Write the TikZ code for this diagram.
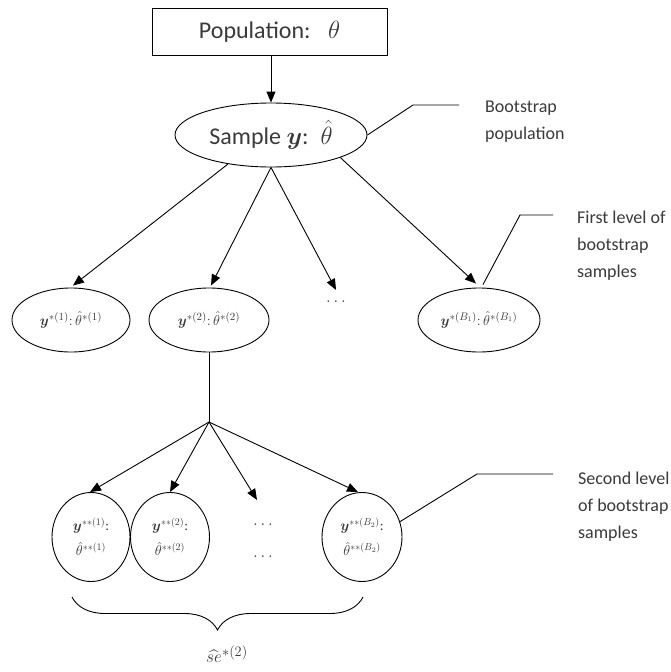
\documentclass[tikz,border=0pt]{standalone}
\usepackage{amsmath,bm}
\usepackage{fontspec}
\setmainfont{Carlito}
\usetikzlibrary{shapes.geometric,arrows.meta,decorations.pathreplacing}

\definecolor{txt}{HTML}{3A3A3A}

\tikzset{
  line/.style={line width=0.9pt, draw=black},
  arr/.style={line, -{Triangle[length=11pt,width=9pt]}},
  oval/.style={ellipse, draw=black, line width=0.9pt, inner sep=0pt, text=txt},
  note/.style={anchor=north west, align=left, text=txt, inner sep=0pt,
               font=\fontsize{18}{27}\selectfont},
  big/.style={font=\fontsize{24}{28}\selectfont},
  small/.style={font=\fontsize{15}{18}\selectfont},
  tiny/.style={font=\fontsize{14}{25}\selectfont},
  dots/.style={text=txt, inner sep=0pt, font=\fontsize{18}{20}\selectfont},
}

\begin{document}
\begin{tikzpicture}[x=1pt,y=-1pt]
\useasboundingbox (0,0) rectangle (670,672);

% population and the observed sample
\node[draw=black, line width=0.9pt, minimum width=235pt, minimum height=47pt,
      inner sep=0pt, text=txt, big] (pop) at (269.5,31.5)
      {Population:\enspace\ $\theta$};
\node[oval, minimum width=192pt, minimum height=64pt, big] (samp) at (271,135)
      {Sample $\bm{y}$:\enspace $\hat{\theta}$};
\draw[arr] (pop.south -| samp.north) -- (samp.north);

% first level of bootstrap samples
\node[oval, minimum width=118pt, minimum height=64pt, small] (e1) at (71,320)
      {$\bm{y}^{*(1)}{:}\,\hat{\theta}^{*(1)}$};
\node[oval, minimum width=120pt, minimum height=64pt, small] (e2) at (209,320)
      {$\bm{y}^{*(2)}{:}\,\hat{\theta}^{*(2)}$};
\node[dots] (d1) at (336,302) {$\ldots$};
\node[oval, minimum width=122pt, minimum height=64pt, small] (eb) at (479,320)
      {$\bm{y}^{*(B_1)}{:}\,\hat{\theta}^{*(B_1)}$};

\draw[arr] (samp.214.6) -- ([shift={(2,-2)}]e1.north);
\draw[arr] (samp.south) -- ([shift={(2,-2)}]e2.north);
\draw[arr] (samp.south) -- ([yshift=11pt]d1.north);
\draw[arr] (samp.-18.9) -- ([shift={(-3,-4)}]eb.north);

% second level of bootstrap samples
\coordinate (split) at (209,422);
\draw[line] (e2.south) -- (split);

\node[oval, minimum width=78pt, minimum height=89pt, tiny, align=center] (f1) at (91,537)
      {$\bm{y}^{**(1)}$:\\ $\hat{\theta}^{**(1)}$};
\node[oval, minimum width=79pt, minimum height=89pt, tiny, align=center] (f2) at (170,537)
      {$\bm{y}^{**(2)}$:\\ $\hat{\theta}^{**(2)}$};
\node[dots] (d2a) at (263,525) {$\ldots$};
\node[dots] (d2b) at (263,557) {$\ldots$};
\node[oval, minimum width=80pt, minimum height=89pt, tiny, align=center] (fb) at (362,537)
      {$\bm{y}^{**(B_2)}$:\\ $\hat{\theta}^{**(B_2)}$};

\draw[arr] (split) -- ([xshift=-1pt]f1.north);
\draw[arr] (split) -- (f2.north);
\draw[arr] (split) -- ([shift={(-6,-24)}]d2a.north);
\draw[arr] (split) -- ([xshift=-4pt]fb.north);

% brace over the second-level estimates
\coordinate (bl) at (72,597);
\coordinate (br) at (363,597);
\draw[line width=0.9pt, decorate, decoration={brace, amplitude=33pt}] (br) -- (bl);
\node[text=txt, font=\fontsize{19}{22}\selectfont] (se) at (227,654)
      {$\widehat{se}{}^{*(2)}$};

% callouts
\coordinate (c1a) at (413,105);
\coordinate (c1b) at (459,105);
\draw[line] (samp.east) -- (c1a) -- (c1b);
\node[note] (n1) at (485,101) {Bootstrap\\population};

\coordinate (c2a) at (520,215);
\coordinate (c2b) at (553,215);
\draw[line] ([shift={(4,-3)}]eb.north) -- (c2a) -- (c2b);
\node[note] (n2) at (577,211) {First level of\\bootstrap\\samples};

\coordinate (c3a) at (477,474);
\coordinate (c3b) at (553,474);
\draw[line] (fb.22) -- (c3a) -- (c3b);
\node[note] (n3) at (578,472) {Second level\\of bootstrap\\samples};
\end{tikzpicture}
\end{document}
